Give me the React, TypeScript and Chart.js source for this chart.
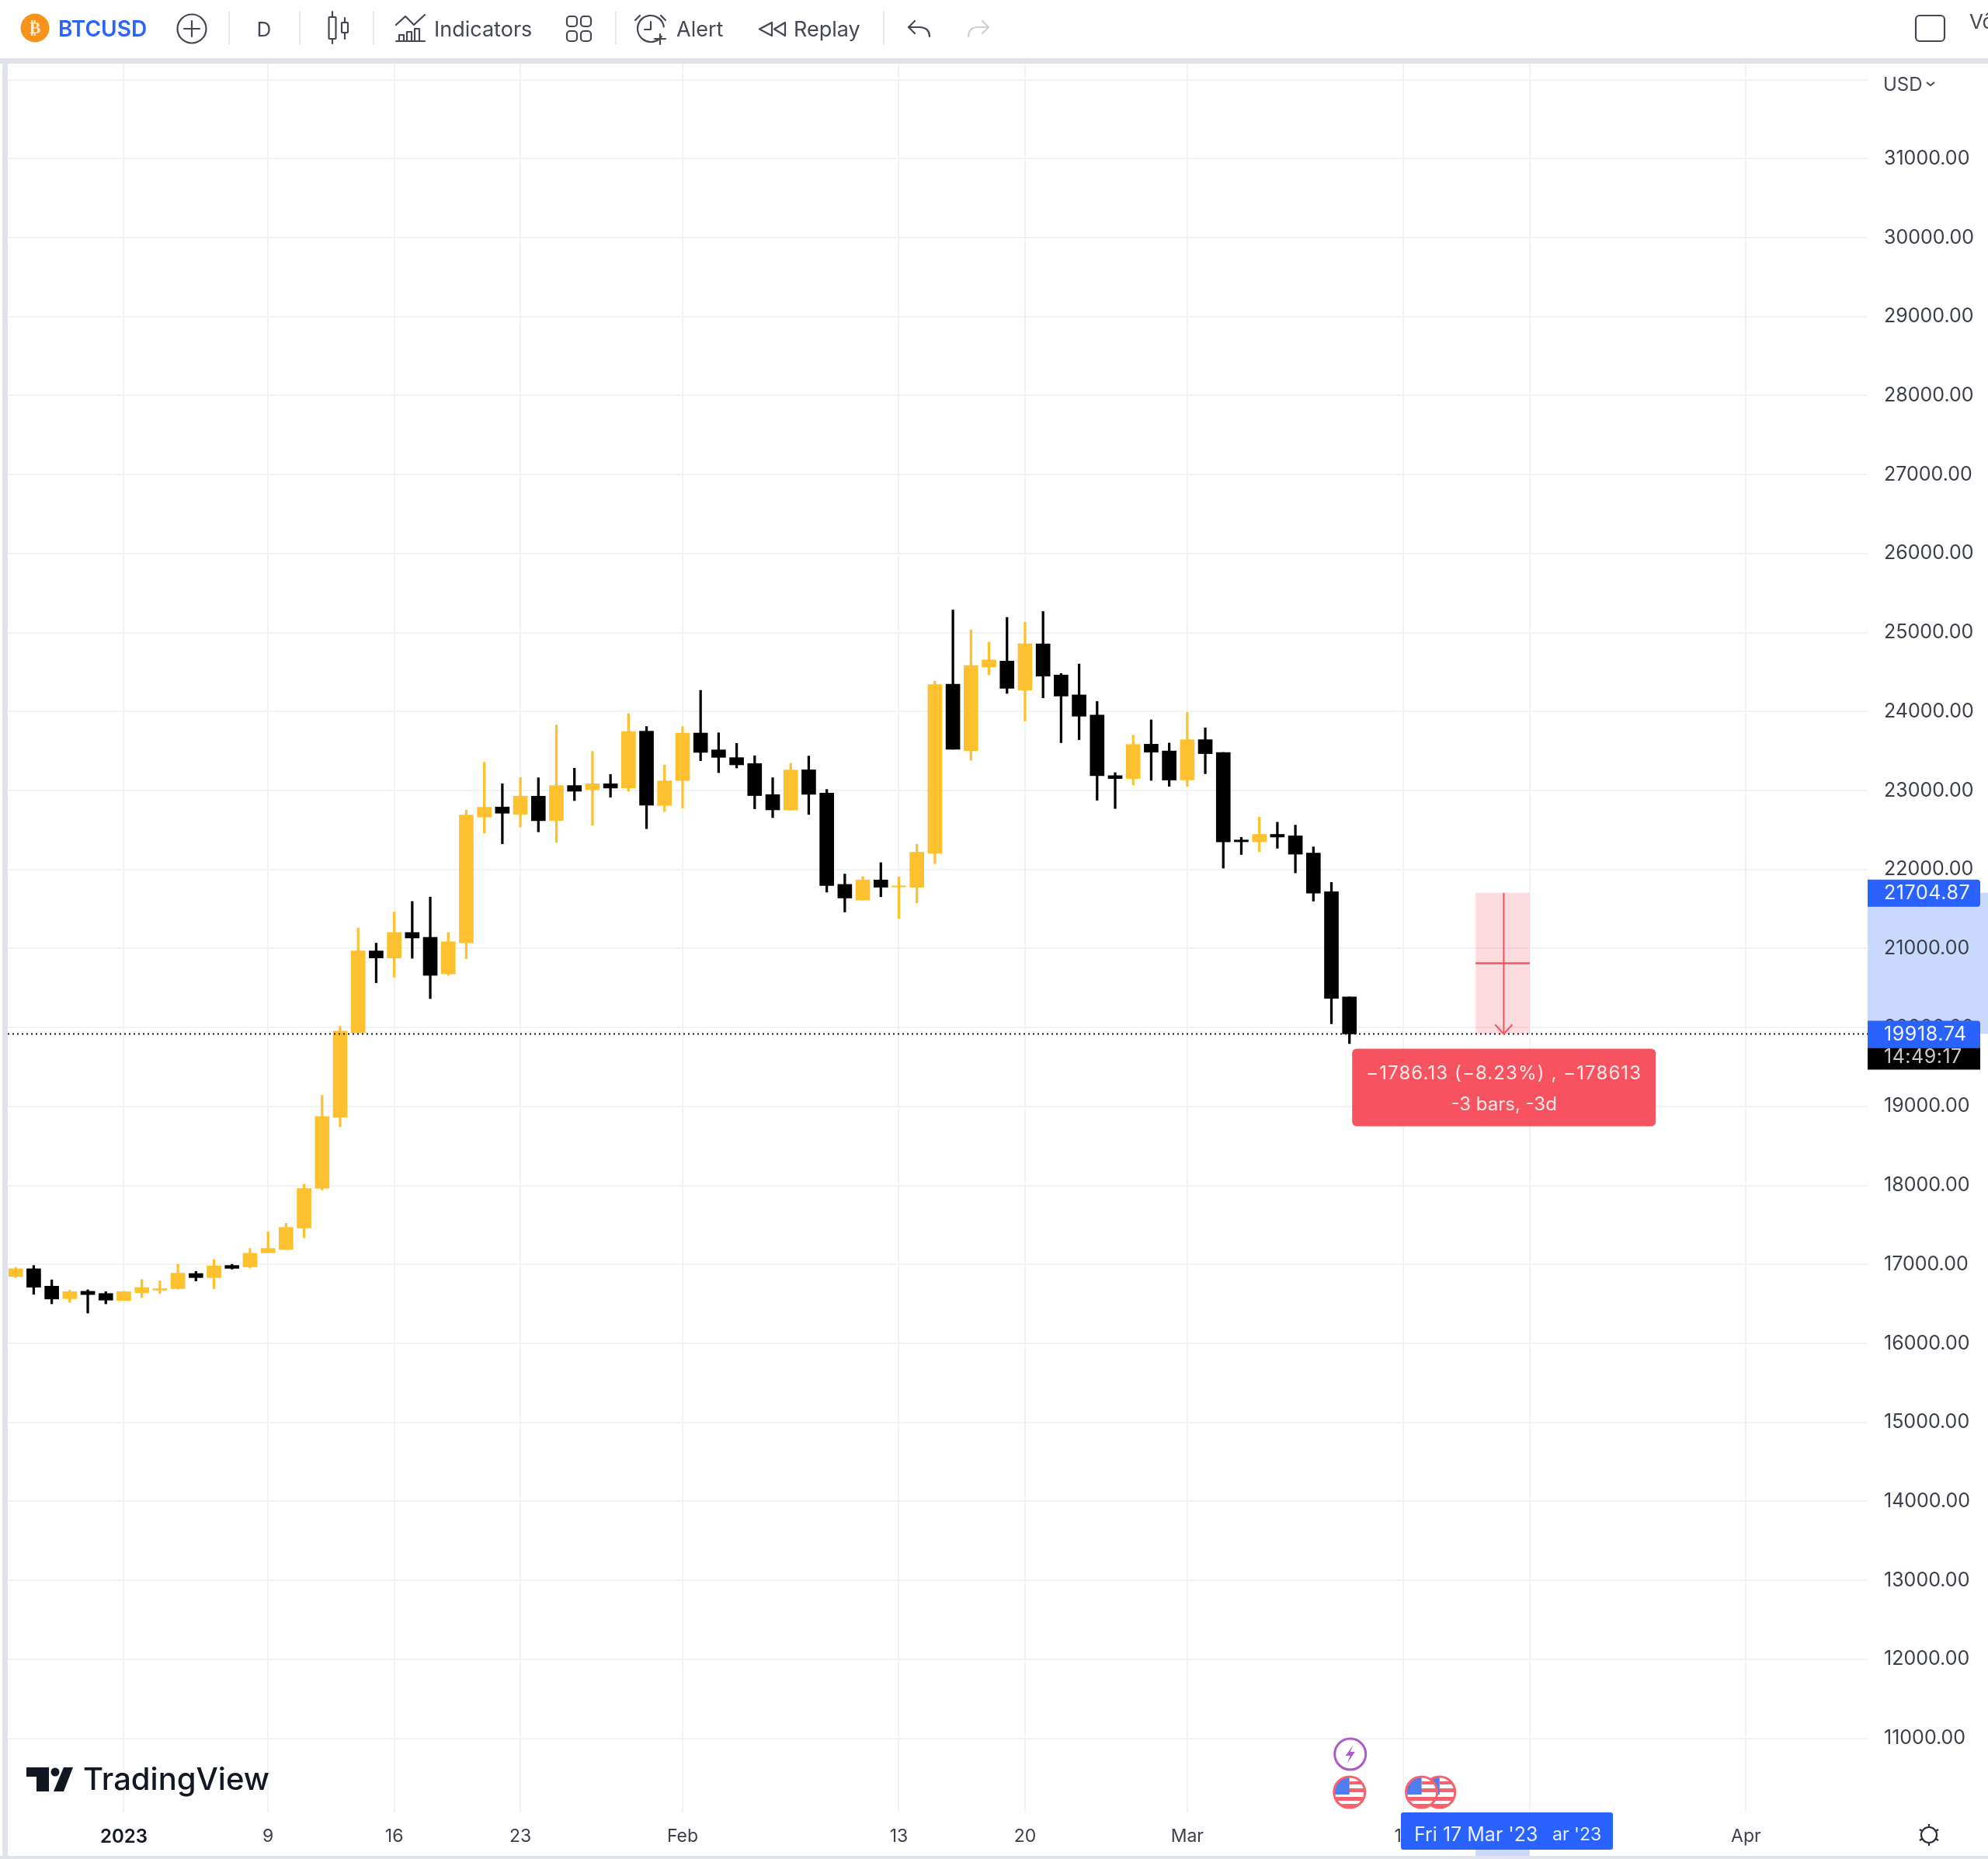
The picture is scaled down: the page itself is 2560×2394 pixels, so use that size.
import React, { useEffect, useRef } from "react";
import { Chart, registerables } from "chart.js";

Chart.register(...registerables);

const days = [-6,-5,-4,-3,-2,-1,0,1,2,3,4,5,6,7,8,9,10,11,12,13,14,15,16,17,18,19,20,21,22,23,24,25,26,27,28,29,30,31,32,33,34,35,36,37,38,39,40,41,42,43,44,45,46,47,48,49,50,51,52,53,54,55,56,57,58,59,60,61,62,63,64,65,66,67,68];
const opens = [16847,16945,16725,16566,16660,16632,16543,16641,16674,16693,16885,16833,16987,16969,17147,17189,17460,17965,18864,19935,20969,20880,21203,21142,20679,21072,22664,22792,22700,22929,22621,23063,23011,23086,23034,23751,22811,23126,23728,23515,23417,23342,22949,22752,23263,22968,21812,21613,21868,21780,21776,22205,24346,23505,24564,24639,24271,24857,24463,24211,23956,23189,23152,23587,23501,23133,23644,23482,22374,22351,22445,22426,22209,21720,20387];
const highs = [16964,16987,16805,16674,16679,16655,16660,16810,16791,17002,16913,17062,17002,17203,17413,17521,18017,19140,20015,21259,21068,21461,21596,21652,21203,22752,23361,23086,23165,23162,23830,23283,23496,23204,23974,23810,23325,23810,24269,23731,23597,23440,23162,23345,23437,23014,21943,21911,22087,21907,22320,24384,25286,25034,24880,25192,25132,25267,24482,24602,24128,23227,23700,23895,23602,23993,23794,23482,22408,22663,22599,22562,22287,21837,20387];
const lows = [16833,16622,16501,16520,16384,16501,16543,16580,16632,16688,16791,16693,16941,16955,17147,17189,17338,17942,18742,19935,20567,20637,20876,20366,20660,20871,22461,22326,22539,22477,22343,22873,22559,22916,22991,22516,22733,22778,23378,23227,23286,22769,22657,22752,22697,21714,21462,21613,21655,21380,21577,22075,23523,23384,24466,24230,23880,24173,23606,23644,22877,22772,23073,23129,23054,23054,23212,22017,22190,22227,22269,21957,21600,20048,19796];
const closes = [16945,16711,16562,16655,16618,16548,16655,16707,16693,16889,16833,16983,16950,17142,17203,17469,17961,18873,19954,20969,20880,21203,21133,20660,21086,22691,22788,22713,22929,22618,23063,22991,23086,23031,23748,22814,23122,23728,23483,23420,23325,22936,22755,23260,22952,21796,21639,21868,21776,21793,22218,24342,23523,24583,24654,24294,24857,24448,24196,23941,23189,23152,23584,23486,23133,23644,23467,22351,22351,22445,22411,22194,21701,20368,19918.74];

const gridDays = [0,8,15,22,31,43,50,59,71,78,90];
const gridLabels = ["2023","9","16","23","Feb","13","20","Mar","13","20","Apr"];
const priceTicks = [11000,12000,13000,14000,15000,16000,17000,18000,19000,20000,21000,22000,23000,24000,25000,26000,27000,28000,29000,30000,31000,32000];
const eventDays = [68,72,73];
const lastPrice = 19918.74;
const measureFrom = 21704.87;
const measureDays = [75,78];
const measureLines = ["\u22121786.13 (\u22128.23%) , \u2212178613","-3 bars, -3d"];
const countdown = "14:49:17";
const dateLabel = "Fri 17 Mar '23";
const dateLabelTail = "ar '23";

const GOLD = "#FDC02E";
const BLUE = "#2962FF";
const RED = "#F7525F";
const BAND = "#C9D8FF";
const FRAME = "#E0E3EB";
const INK = "#454852";
const FONT = "Inter, 'Noto Sans', sans-serif";

function rr(ctx: CanvasRenderingContext2D, x: number, y: number, w: number, h: number, r: number | number[]) {
  ctx.beginPath();
  ctx.roundRect(x, y, w, h, r);
}

function line(ctx: CanvasRenderingContext2D, pts: number[][]) {
  ctx.beginPath();
  pts.forEach((p, i) => (i ? ctx.lineTo(p[0], p[1]) : ctx.moveTo(p[0], p[1])));
  ctx.stroke();
}

function text(ctx: CanvasRenderingContext2D, s: string, x: number, y: number, font: string, color: string, align: CanvasTextAlign = "left", spacing = "0px") {
  ctx.font = font;
  ctx.fillStyle = color;
  ctx.textAlign = align;
  ctx.textBaseline = "middle";
  (ctx as any).letterSpacing = spacing;
  ctx.fillText(s, x, y);
  (ctx as any).letterSpacing = "0px";
}

function drawToolbar(ctx: CanvasRenderingContext2D) {
  ctx.save();
  ctx.lineCap = "round";
  ctx.lineJoin = "round";
  ctx.fillStyle = "#F7931A";
  ctx.beginPath();
  ctx.arc(45, 36, 18.5, 0, Math.PI * 2);
  ctx.fill();
  text(ctx, "\u20BF", 45, 37, "bold 22px 'DejaVu Sans'", "#FFE9C8", "center");
  text(ctx, "BTCUSD", 75, 39, `600 28px ${FONT}`, BLUE);

  ctx.strokeStyle = INK;
  ctx.lineWidth = 2.2;
  ctx.beginPath();
  ctx.arc(247, 37, 18.5, 0, Math.PI * 2);
  ctx.stroke();
  line(ctx, [[237, 37], [257, 37]]);
  line(ctx, [[247, 27], [247, 47]]);

  ctx.strokeStyle = FRAME;
  ctx.lineWidth = 1.6;
  [295, 386, 481, 793, 1138].forEach((x) => line(ctx, [[x, 15], [x, 57]]));

  text(ctx, "D", 340, 39, `400 26px ${FONT}`, INK, "center");

  ctx.strokeStyle = INK;
  ctx.lineWidth = 2.2;
  rr(ctx, 423.5, 22, 9, 28, 1);
  ctx.stroke();
  line(ctx, [[428, 15], [428, 22]]);
  line(ctx, [[428, 50], [428, 56]]);
  rr(ctx, 440, 29, 8, 13, 1);
  ctx.stroke();
  line(ctx, [[444, 23], [444, 29]]);
  line(ctx, [[444, 42], [444, 50]]);

  line(ctx, [[510, 32], [522, 21], [533, 32], [547, 19]]);
  [[514, 45, 6], [524, 41, 6], [534, 37, 6]].forEach((b) => {
    rr(ctx, b[0], b[1], b[2], 53 - b[1], 0);
    ctx.stroke();
  });
  line(ctx, [[510, 53], [547, 53]]);
  text(ctx, "Indicators", 559, 39, `400 27px ${FONT}`, INK);

  [[730, 21], [748, 21], [730, 40], [748, 40]].forEach((s) => {
    rr(ctx, s[0], s[1], 13, 13, 4);
    ctx.stroke();
  });

  ctx.beginPath();
  ctx.arc(838, 37, 17, Math.PI * 0.2, Math.PI * 1.95);
  ctx.stroke();
  line(ctx, [[838, 28], [838, 38], [830, 38]]);
  line(ctx, [[824, 20], [818, 26]]);
  line(ctx, [[851, 20], [857, 26]]);
  line(ctx, [[850, 44], [850, 57]]);
  line(ctx, [[843, 50], [857, 50]]);
  text(ctx, "Alert", 871, 39, `400 27px ${FONT}`, INK);

  line(ctx, [[994, 29], [978, 37.5], [994, 46], [994, 29]]);
  line(ctx, [[1011, 29], [997, 37.5], [1011, 46], [1011, 29]]);
  text(ctx, "Replay", 1022, 39, `400 27px ${FONT}`, INK);

  ctx.beginPath();
  ctx.moveTo(1170, 35);
  ctx.lineTo(1185, 35);
  ctx.quadraticCurveTo(1197, 36, 1197, 47);
  ctx.stroke();
  line(ctx, [[1178, 27], [1170, 35], [1178, 43]]);
  ctx.strokeStyle = "#CDD0D6";
  ctx.beginPath();
  ctx.moveTo(1273, 35);
  ctx.lineTo(1258, 35);
  ctx.quadraticCurveTo(1247, 36, 1247, 47);
  ctx.stroke();
  line(ctx, [[1265, 27], [1273, 35], [1265, 43]]);

  ctx.strokeStyle = INK;
  rr(ctx, 2467, 20, 37, 33, 5);
  ctx.stroke();
  text(ctx, "V\u00F4", 2536, 29, `400 26px ${FONT}`, INK);
  ctx.restore();
}

function drawLogo(ctx: CanvasRenderingContext2D) {
  ctx.save();
  ctx.fillStyle = "#131722";
  ctx.fillRect(34, 2276, 29, 12);
  ctx.fillRect(47, 2276, 16, 31);
  ctx.beginPath();
  ctx.arc(71, 2282, 5.5, 0, Math.PI * 2);
  ctx.fill();
  ctx.beginPath();
  ctx.moveTo(82, 2276);
  ctx.lineTo(94, 2276);
  ctx.lineTo(82, 2307);
  ctx.lineTo(69, 2307);
  ctx.closePath();
  ctx.fill();
  text(ctx, "TradingView", 107, 2293, `500 40px ${FONT}`, "#131722");
  ctx.restore();
}

function drawFlag(ctx: CanvasRenderingContext2D, cx: number, cy: number) {
  const r = 20;
  ctx.save();
  ctx.beginPath();
  ctx.arc(cx, cy, r, 0, Math.PI * 2);
  ctx.fillStyle = "#FFFFFF";
  ctx.fill();
  ctx.clip();
  ctx.fillStyle = "#F7626E";
  [cy - 5, cy + 6, cy + 15].forEach((y) => ctx.fillRect(cx - r, y, r * 2, 5));
  ctx.fillRect(cx, cy - 14, r, 4);
  ctx.fillStyle = "#4F7DF0";
  ctx.fillRect(cx - r, cy - r, r, r + 3);
  ctx.restore();
  ctx.strokeStyle = "#F7626E";
  ctx.lineWidth = 3;
  ctx.beginPath();
  ctx.arc(cx, cy, r, 0, Math.PI * 2);
  ctx.stroke();
}

function drawGear(ctx: CanvasRenderingContext2D, cx: number, cy: number) {
  ctx.save();
  ctx.strokeStyle = "#2A2E39";
  ctx.lineWidth = 2.2;
  ctx.beginPath();
  ctx.arc(cx, cy, 10, 0, Math.PI * 2);
  ctx.stroke();
  for (const a of [0, 60, 120, 180, 240, 300]) {
    const t = ((a + 30) * Math.PI) / 180;
    line(ctx, [[cx + Math.cos(t) * 10, cy + Math.sin(t) * 10], [cx + Math.cos(t) * 14, cy + Math.sin(t) * 14]]);
  }
  ctx.restore();
}

const chromePlugin = {
  id: "chrome",
  beforeDraw(chart: any) {
    const { ctx, scales } = chart;
    const y = scales.y;
    const x = scales.x;
    ctx.save();
    ctx.fillStyle = "#FFFFFF";
    ctx.fillRect(0, 0, chart.width, chart.height);
    const top = y.getPixelForValue(measureFrom);
    const bottom = y.getPixelForValue(lastPrice);
    ctx.fillStyle = BAND;
    ctx.fillRect(chart.chartArea.right, top, chart.width - chart.chartArea.right, bottom - top);
    ctx.fillRect(x.getPixelForValue(measureDays[0]), chart.chartArea.bottom, x.getPixelForValue(measureDays[1]) - x.getPixelForValue(measureDays[0]), 56);
    ctx.restore();
  },
  beforeDatasetsDraw(chart: any) {
    const { ctx, scales } = chart;
    const x0 = scales.x.getPixelForValue(measureDays[0]);
    const x1 = scales.x.getPixelForValue(measureDays[1]);
    const y0 = scales.y.getPixelForValue(measureFrom);
    const y1 = scales.y.getPixelForValue(lastPrice);
    ctx.save();
    ctx.fillStyle = "rgba(247,82,95,0.2)";
    ctx.fillRect(x0, y0, x1 - x0, y1 - y0);
    ctx.restore();
  },
  afterDraw(chart: any) {
    const { ctx, scales, chartArea } = chart;
    const x = scales.x;
    const y = scales.y;
    const x0 = x.getPixelForValue(measureDays[0]);
    const x1 = x.getPixelForValue(measureDays[1]);
    const y0 = y.getPixelForValue(measureFrom);
    const y1 = y.getPixelForValue(lastPrice);
    const mx = x0 + (x1 - x0) * 0.52;
    const midY = y.getPixelForValue((measureFrom + lastPrice) / 2);
    ctx.save();
    ctx.strokeStyle = RED;
    ctx.lineWidth = 2;
    line(ctx, [[mx, y0], [mx, y1]]);
    line(ctx, [[mx - 11, y1 - 12], [mx, y1], [mx + 11, y1 - 12]]);
    ctx.lineWidth = 2.5;
    line(ctx, [[x0, midY], [x1, midY]]);

    const bx0 = x.getPixelForValue(measureDays[0]) - 159;
    ctx.fillStyle = RED;
    rr(ctx, bx0, y1 + 19, 391, 100, 6);
    ctx.fill();
    text(ctx, measureLines[0], bx0 + 195.5, y1 + 51, `400 24px ${FONT}`, "#FFE8EA", "center", "1.1px");
    text(ctx, measureLines[1], bx0 + 195.5, y1 + 91, `400 24px ${FONT}`, "#FFE8EA", "center");

    const r = chartArea.right;
    const boxW = 145;
    ctx.fillStyle = BLUE;
    rr(ctx, r, y0 - 17, boxW, 35, [0, 4, 4, 0]);
    ctx.fill();
    text(ctx, measureFrom.toFixed(2), r + 21, y0 + 1, `400 25px ${FONT}`, "#F2F5FF", "left", "0.6px");
    ctx.fillStyle = BLUE;
    rr(ctx, r, y1 - 17, boxW, 35, [0, 4, 0, 0]);
    ctx.fill();
    text(ctx, lastPrice.toFixed(2), r + 21, y1 + 1, `400 25px ${FONT}`, "#F2F5FF", "left", "0.6px");
    ctx.fillStyle = "#000000";
    ctx.fillRect(r, y1 + 18, boxW, 28);
    text(ctx, countdown, r + 21, y1 + 30, `400 25px ${FONT}`, "#C8C8C8", "left", "0.5px");

    text(ctx, "USD", 2425, 110, `400 24px ${FONT}`, INK);
    ctx.strokeStyle = INK;
    ctx.lineWidth = 2;
    line(ctx, [[2481, 106], [2486, 110], [2491, 106]]);

    drawToolbar(ctx);
    ctx.fillStyle = FRAME;
    ctx.fillRect(0, 75, chart.width, 7);
    ctx.fillRect(3, 75, 7, chart.height - 75);
    ctx.fillRect(0, 2390, chart.width, 4);

    drawLogo(ctx);

    const ev = eventDays.map((d) => x.getPixelForValue(d));
    ctx.strokeStyle = "#AB5CC6";
    ctx.lineWidth = 3;
    ctx.beginPath();
    ctx.arc(ev[0] + 1, 2259, 20, 0, Math.PI * 2);
    ctx.stroke();
    ctx.fillStyle = "#AB5CC6";
    ctx.beginPath();
    ctx.moveTo(ev[0] + 5, 2247);
    ctx.lineTo(ev[0] - 5, 2261);
    ctx.lineTo(ev[0] + 1, 2261);
    ctx.lineTo(ev[0] - 3, 2271);
    ctx.lineTo(ev[0] + 7, 2256);
    ctx.lineTo(ev[0] + 1, 2256);
    ctx.closePath();
    ctx.fill();
    drawFlag(ctx, ev[0], 2308);
    drawFlag(ctx, ev[2], 2308);
    drawFlag(ctx, ev[1], 2308);

    ctx.fillStyle = BLUE;
    rr(ctx, 1804, chartArea.bottom, 273, 48, 3);
    ctx.fill();
    text(ctx, dateLabel, 1821, 2363, `400 25px ${FONT}`, "#E8EEFF");
    text(ctx, dateLabelTail, 1999, 2363, `400 23px ${FONT}`, "#E8EEFF");

    drawGear(ctx, 2484, 2363);
    ctx.restore();
  },
};

export default function App() {
  const ref = useRef<HTMLCanvasElement>(null);
  useEffect(() => {
    document.body.style.margin = "0";
    const bodies = days.map((d, i) => ({ x: d, y: [opens[i], closes[i]] }));
    const wicks = days.map((d, i) => ({ x: d, y: [lows[i], highs[i]] }));
    const colors = days.map((_, i) => (closes[i] >= opens[i] ? GOLD : "#000000"));
    const chart = new Chart(ref.current as HTMLCanvasElement, {
      type: "bar",
      data: {
        datasets: [
          { type: "line", data: [{ x: -6.44, y: lastPrice }, { x: 96.75, y: lastPrice }], borderColor: "#131722", borderWidth: 2, borderDash: [2, 4], pointRadius: 0, order: 0 },
          { data: bodies, backgroundColor: colors, barThickness: 18, grouped: false, order: 1 },
          { data: wicks, backgroundColor: colors, barThickness: 2.6, grouped: false, order: 2 },
        ],
      } as any,
      options: {
        animation: false,
        responsive: false,
        devicePixelRatio: 1,
        layout: { padding: { left: 10, top: 82, right: 0, bottom: 4 } },
        plugins: { legend: { display: false }, tooltip: { enabled: false } },
        scales: {
          x: {
            type: "linear",
            offset: false,
            min: -6.44,
            max: 96.75,
            afterBuildTicks(scale: any) {
              scale.ticks = gridDays.map((v) => ({ value: v }));
            },
            afterFit(scale: any) {
              scale.height = 56;
            },
            grid: { color: "#F1F3F6", lineWidth: 2, drawTicks: false, offset: false },
            border: { display: false },
            ticks: {
              autoSkip: false,
              maxRotation: 0,
              includeBounds: false,
              padding: 17,
              color: (c: any) => (c.tick && c.tick.value === 0 ? "#131722" : "#3C404A"),
              font: (c: any) => ({ family: FONT, size: c.tick && c.tick.value === 0 ? 24 : 23, weight: c.tick && c.tick.value === 0 ? "600" : "400" }),
              callback: (v: any) => gridLabels[gridDays.indexOf(v)],
            },
          },
          y: {
            type: "linear",
            position: "right",
            min: 10062,
            max: 32203,
            afterBuildTicks(scale: any) {
              scale.ticks = priceTicks.map((v) => ({ value: v }));
            },
            afterFit(scale: any) {
              scale.width = 155;
            },
            grid: { color: "#F1F3F6", lineWidth: 2, drawTicks: false },
            border: { display: false },
            ticks: {
              autoSkip: false,
              includeBounds: false,
              padding: 21,
              crossAlign: "near",
              color: "#3C404A",
              font: { family: FONT, size: 25, weight: "400" },
              callback: (v: any) => (v > 31000 ? "" : Number(v).toFixed(2)),
            },
          },
        },
      } as any,
      plugins: [chromePlugin],
    });
    return () => chart.destroy();
  }, []);
  return <canvas ref={ref} width={2560} height={2394} style={{ display: "block", filter: "blur(0.6px)" }} />;
}
